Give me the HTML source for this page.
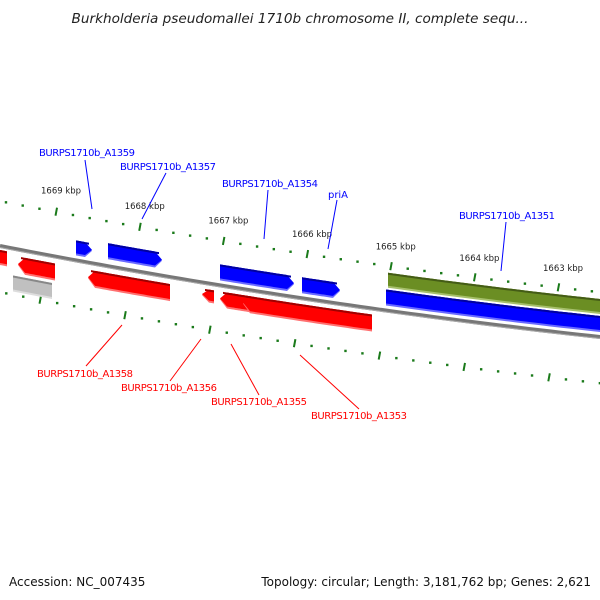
<!DOCTYPE html>
<html><head><meta charset="utf-8"><style>
html,body{margin:0;padding:0;background:#fff;}
svg{display:block;}
text{font-family:"DejaVu Sans","Liberation Sans",sans-serif;}
</style></head><body>
<svg id="s" width="600" height="600" xmlns="http://www.w3.org/2000/svg">
<text x="300" y="23" text-anchor="middle" font-size="13.6" font-style="italic" fill="#222">Burkholderia pseudomallei 1710b chromosome II, complete sequ...</text>
<text x="9" y="586" font-size="12" fill="#111">Accession: NC_007435</text>
<text x="591" y="586" text-anchor="end" font-size="12" fill="#111">Topology: circular; Length: 3,181,762 bp; Genes: 2,621</text>
<g id="g"></g>
</svg>
<script>
var NS="http://www.w3.org/2000/svg",g=document.getElementById("g");
function b(x){return 246+0.195*x-7.22e-5*x*x;}
function el(t,a){var e=document.createElementNS(NS,t);for(var k in a)e.setAttribute(k,a[k]);g.appendChild(e);return e;}
function band(x1,x2,o1,o2,fill,dir){
  var pts=[],n=20,i,x,tip=7;
  var a1=x1,a2=x2;
  if(dir==1)a2=x2-tip; if(dir==-1)a1=x1+tip;
  for(i=0;i<=n;i++){x=a1+(a2-a1)*i/n;pts.push(x+","+(b(x)+o1));}
  if(dir==1){pts.push(x2+","+(b(x2)+(o1+o2)/2));}
  for(i=n;i>=0;i--){x=a1+(a2-a1)*i/n;pts.push(x+","+(b(x)+o2));}
  if(dir==-1){pts.push(x1+","+(b(x1)+(o1+o2)/2));}
  el("polygon",{points:pts.join(" "),fill:fill});
}
function feat(x1,x2,o1,o2,c,dk,lt,dir){
  band(x1,x2,o1,o2,lt,dir);
  band(x1,x2,o1,o2-2,c,dir);
  band(x1+(dir==-1?3:0),x2-(dir==1?3:0),o1,o1+2,dk,0);
}
var p="M0,"+(b(0))+" ";for(var x=0;x<=600;x+=10)p+="L"+x+","+b(x)+" ";
el("path",{d:p,stroke:"#777",fill:"none","stroke-width":4});
el("path",{d:p.replace(/,([\d.]+)/g,function(m,v){return ","+(+v+1.5)}),stroke:"#aaa",fill:"none","stroke-width":1});
var maj=[56,139.7,223.4,307,390.7,474.4,558];
var labs=["1669 kbp","1668 kbp","1667 kbp","1666 kbp","1665 kbp","1664 kbp","1663 kbp"];
for(var k=-3;k<40;k++){var x=56+k*16.74;if(x<0||x>600)continue;var y=b(x)-45;
 if(k%5==0){el("line",{x1:x+1,y1:y-4,x2:x-0.5,y2:y+4,stroke:"#1a7a1a","stroke-width":2});}
 else el("rect",{x:x-1,y:y-1,width:2.4,height:2.4,fill:"#1a7a1a"});}
for(var k=-2;k<40;k++){var x=40+k*16.96;if(x<0||x>600)continue;var y=b(x)+46;
 if(k%5==0){el("line",{x1:x+1,y1:y-4,x2:x-0.5,y2:y+4,stroke:"#1a7a1a","stroke-width":2});}
 else el("rect",{x:x-1,y:y-1,width:2.4,height:2.4,fill:"#1a7a1a"});}
for(var i=0;i<7;i++){var t=el("text",{x:maj[i]-15,y:b(maj[i])-63+(i*0.3),"font-size":"8.5",fill:"#222"});t.textContent=labs[i];}
var B=["#0000ff","#0000a0","#6a6aff"],R=["#ff0000","#a00000","#ff7070"];
feat(76,92,-20,-5,B[0],B[1],B[2],1);
feat(108,162,-23,-7,B[0],B[1],B[2],1);
feat(220,294,-21,-5,B[0],B[1],B[2],1);
feat(302,340,-21,-5,B[0],B[1],B[2],1);
feat(386,605,-21,-5,B[0],B[1],B[2],0);
feat(388,605,-38,-23,"#6b8e23","#445c16","#a5bf6a",0);
feat(-5,7,4,19,R[0],R[1],R[2],0);
feat(18,55,7,24,R[0],R[1],R[2],-1);
feat(88,170,7,24,R[0],R[1],R[2],-1);
feat(202,214,6,19,R[0],R[1],R[2],-1);
feat(220,252,6,22,R[0],R[1],R[2],-1);
feat(243,372,6,23,R[0],R[1],R[2],-1);
feat(13,52,27,43,"#c0c0c0","#888","#ddd",0);
var L=[["BURPS1710b_A1359",39,156,85,160,92,209,"#00f"],["BURPS1710b_A1357",120,170,166,173,142,219,"#00f"],
["BURPS1710b_A1354",222,187,268,190,264,239,"#00f"],["priA",328,198,337,200,328,249,"#00f"],
["BURPS1710b_A1351",459,219,506,222,501,271,"#00f"],
["BURPS1710b_A1358",37,377,86,366,122,325,"#f00"],["BURPS1710b_A1356",121,391,170,381,201,339,"#f00"],
["BURPS1710b_A1355",211,405,259,395,231,344,"#f00"],["BURPS1710b_A1353",311,419,359,409,300,355,"#f00"]];
L.forEach(function(l){el("line",{x1:l[3],y1:l[4],x2:l[5],y2:l[6],stroke:l[7],"stroke-width":1});
 var t=el("text",{x:l[1],y:l[2],"font-size":"10",fill:l[7],textLength:l[0]=="priA"?20:96});t.textContent=l[0];});
</script>
</body></html>
